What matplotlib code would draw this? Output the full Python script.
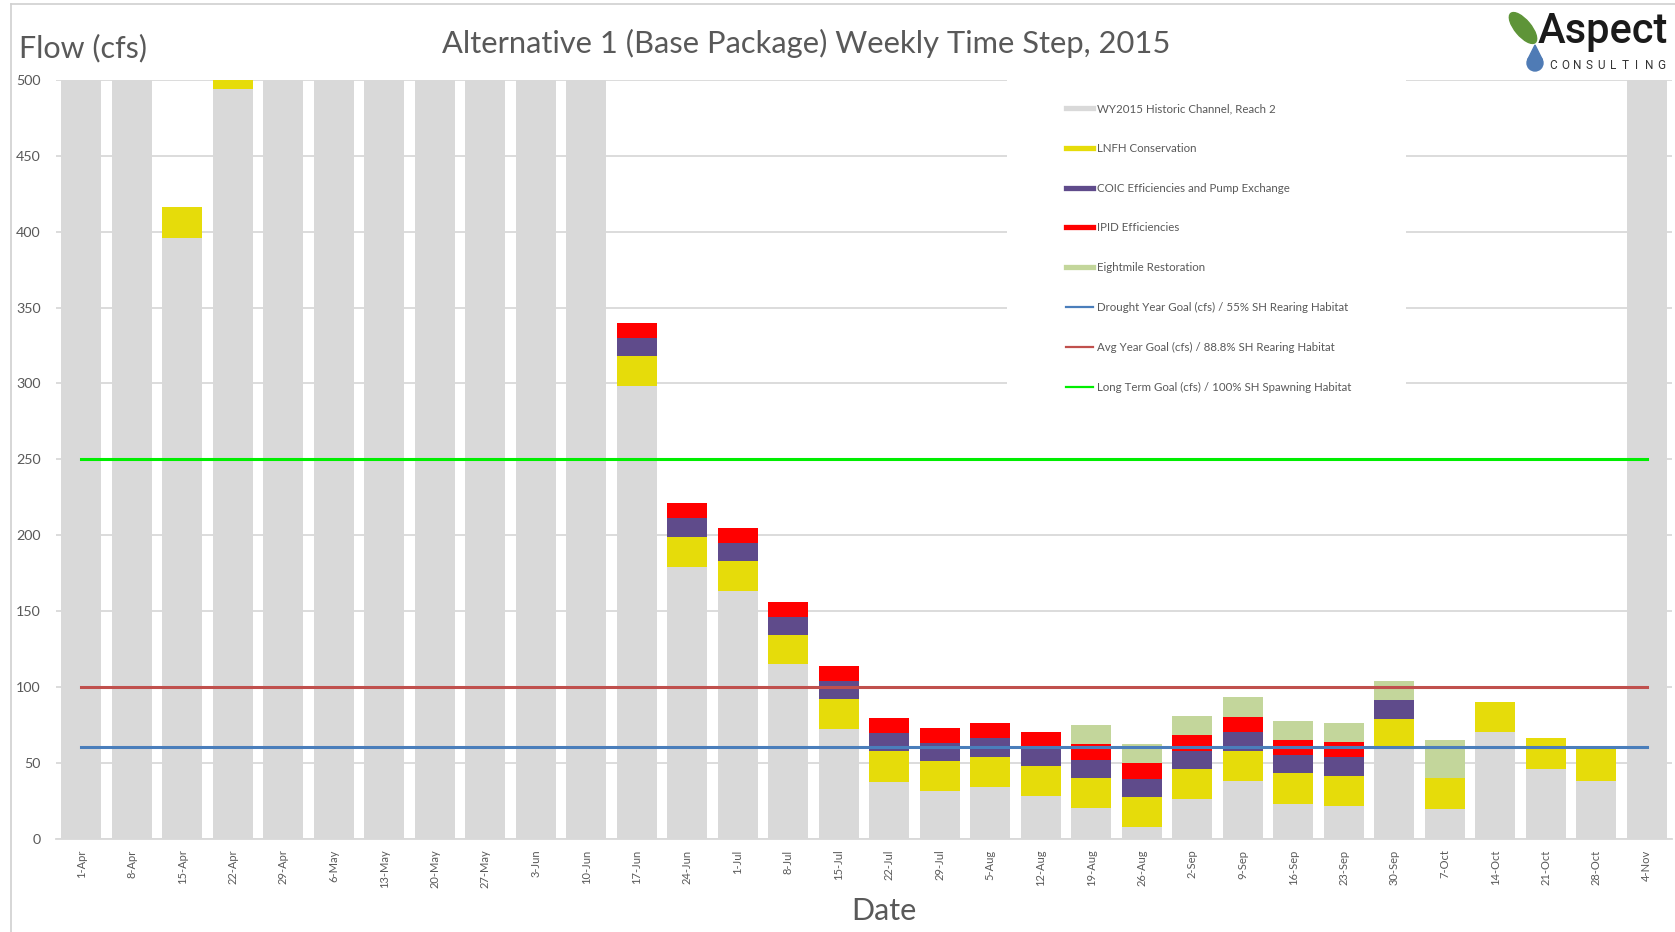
import matplotlib
matplotlib.use("Agg")
import matplotlib.pyplot as plt
from matplotlib.lines import Line2D
from matplotlib.patches import Rectangle, Ellipse, Circle, Polygon
import numpy as np

plt.rcParams['font.family'] = ['Lato', 'DejaVu Sans']

# weekly dates
categories = ['1-Apr', '8-Apr', '15-Apr', '22-Apr', '29-Apr', '6-May', '13-May', '20-May',
              '27-May', '3-Jun', '10-Jun', '17-Jun', '24-Jun', '1-Jul', '8-Jul', '15-Jul',
              '22-Jul', '29-Jul', '5-Aug', '12-Aug', '19-Aug', '26-Aug', '2-Sep', '9-Sep',
              '16-Sep', '23-Sep', '30-Sep', '7-Oct', '14-Oct', '21-Oct', '28-Oct', '4-Nov']

# stacked flow components (cfs); early bars run off the top of the axis
historic = [620, 540, 396, 494, 560, 700, 760, 720, 680, 600, 520, 298, 179, 163, 115, 72,
            37.5, 31, 34, 28, 20, 7.5, 26, 38, 23, 21.5, 60, 19.5, 70, 46, 38, 520]
lnfh = [0, 0, 20, 20, 0, 0, 0, 0, 0, 0, 0, 20, 20, 20, 19, 20,
        20, 20, 20, 20, 20, 20, 20, 20, 20, 20, 19, 20.5, 20, 20, 21, 0]
coic = [0, 0, 0, 0, 0, 0, 0, 0, 0, 0, 0, 12, 12, 12, 12, 12,
        12, 12, 12, 12, 12, 12, 12, 12, 12, 12, 12, 0, 0, 0, 0, 0]
ipid = [0, 0, 0, 0, 0, 0, 0, 0, 0, 0, 0, 10, 10, 10, 10, 10,
        10, 10, 10, 10, 10, 10, 10, 10, 10, 10, 0, 0, 0, 0, 0, 0]
eightmile = [0, 0, 0, 0, 0, 0, 0, 0, 0, 0, 0, 0, 0, 0, 0, 0,
             0, 0, 0, 0, 13, 12.5, 13, 13, 12.5, 12.5, 12.5, 25, 0, 0, 0, 0]

drought_goal = 60
avg_goal = 100
longterm_goal = 250

series = [
    ('WY2015 Historic Channel, Reach 2', historic, '#d9d9d9'),
    ('LNFH Conservation', lnfh, '#e6dc0a'),
    ('COIC Efficiencies and Pump Exchange', coic, '#5f4b8b'),
    ('IPID Efficiencies', ipid, '#ff0000'),
    ('Eightmile Restoration', eightmile, '#c3d69b'),
]
goals = [
    ('Drought Year Goal (cfs) / 55% SH Rearing Habitat', drought_goal, '#4a7ebb'),
    ('Avg Year Goal (cfs) / 88.8% SH Rearing Habitat', avg_goal, '#c0504d'),
    ('Long Term Goal (cfs) / 100% SH Spawning Habitat', longterm_goal, '#00ee00'),
]

txt = '#595959'
W, H = 1675, 932
fig = plt.figure(figsize=(W / 100, H / 100), dpi=100)
ax = fig.add_axes([56 / W, 1 - 838.5 / H, (1672 - 56) / W, (838.5 - 80) / H])

x = np.arange(len(categories))
bottom = np.zeros(len(categories))
for name, vals, col in series:
    vals = np.array(vals, dtype=float)
    ax.bar(x, vals, 0.79, bottom=bottom, color=col, zorder=1)
    bottom += vals

for name, val, col in goals:
    ax.plot(x, np.full(len(x), val), color=col, lw=2.2, zorder=3)

# white box behind the legend hides the gridlines
ax.add_patch(Rectangle((18.33, 285), 7.9, 230, facecolor='white', edgecolor='none', zorder=0.8))

ax.set_xlim(-0.5, len(categories) - 0.5)
ax.set_ylim(0, 500)
ax.set_yticks(np.arange(0, 501, 50))
ax.set_xticks(x)
ax.set_xticklabels(categories, rotation=90, fontsize=8, color=txt)
ax.tick_params(axis='y', length=0, pad=11, labelsize=10.3, labelcolor=txt)
ax.tick_params(axis='x', length=0, pad=8)
ax.grid(True, axis='y', color='#d9d9d9', lw=1.3)
ax.set_axisbelow(True)
for s in ['top', 'right', 'left']:
    ax.spines[s].set_visible(False)
ax.spines['bottom'].set_color('#d9d9d9')
ax.spines['bottom'].set_linewidth(1.3)

handles = [Line2D([0], [0], color=c, lw=3.8) for _, _, c in series]
handles += [Line2D([0], [0], color=c, lw=1.6) for _, _, c in goals]
labels = [n for n, _, _ in series] + [n for n, _, _ in goals]
leg = ax.legend(handles, labels, loc='upper left', bbox_to_anchor=(1066 / W, 1 - 103 / H),
                bbox_transform=fig.transFigure, frameon=False, fontsize=8.3,
                handlelength=2.35, handletextpad=0.3, labelspacing=2.5,
                borderpad=0, borderaxespad=0)
for t in leg.get_texts():
    t.set_color(txt)

fig.text(806 / W, 1 - 43 / H, 'Alternative 1 (Base Package) Weekly Time Step, 2015',
         ha='center', va='center', fontsize=22.2, color=txt)
fig.text(19 / W, 1 - 48 / H, 'Flow (cfs)', ha='left', va='center', fontsize=22, color=txt)
fig.text(884 / W, 1 - 911 / H, 'Date', ha='center', va='center', fontsize=22, color=txt)

# overlay in pixel units: frame and logo
ov = fig.add_axes([0, 0, 1, 1], zorder=10)
ov.set_xlim(0, W)
ov.set_ylim(H, 0)
ov.axis('off')
ov.plot([11, 11], [4, H], color='#d0d0d0', lw=1.2)
ov.plot([11, W], [4, 4], color='#d0d0d0', lw=1.2)
ov.add_patch(Ellipse((1523, 28), 16, 38, angle=-40, color='#5e9438'))
ov.add_patch(Circle((1535, 63), 8, color='#4f7bb5'))
ov.add_patch(Polygon([[1527.5, 60], [1542.5, 60], [1535, 45]], closed=True, color='#4f7bb5'))
ov.text(1538, 43, 'Aspect', fontsize=30, family='Roboto', weight='medium', color='#1a1a1a',
        ha='left', va='baseline')
for cx, ch in zip(np.linspace(1553, 1661, 10), 'CONSULTING'):
    ov.text(cx, 69, ch, fontsize=8.5, family='Roboto', color='#333333',
            ha='center', va='baseline')

fig.savefig('out.png', dpi=100)
